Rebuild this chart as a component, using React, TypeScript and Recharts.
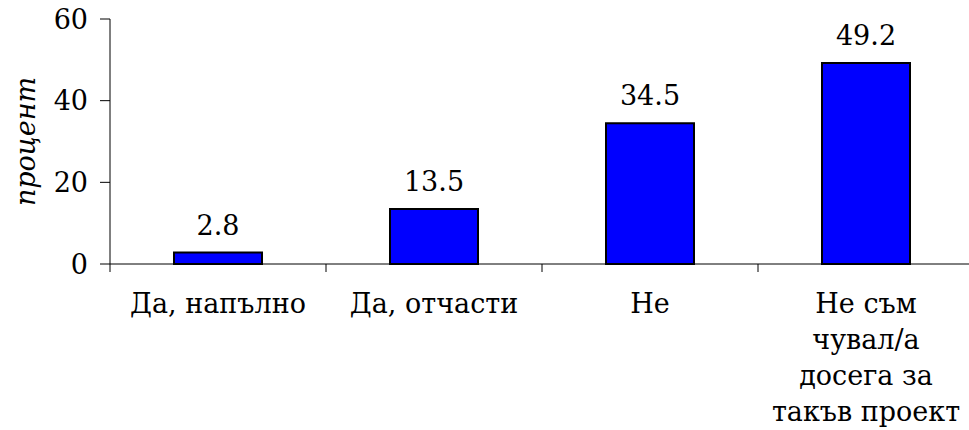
import React from 'react';
import { BarChart, Bar, XAxis, YAxis, LabelList } from 'recharts';

const categories = ['Да, напълно', 'Да, отчасти', 'Не', 'Не съм\nчувал/а\nдосега за\nтакъв проект'];
const percents = [2.8, 13.5, 34.5, 49.2];
const yTicks = [0, 20, 40, 60];

const data = categories.map((name, i) => ({ name, value: percents[i] }));

const FONT = '"DejaVu Serif", serif';
const FONT_SIZE = 27;

function CategoryTick(props: any) {
  const { x, y, payload } = props;
  const half = payload.offset ?? 108;
  const lines = String(payload.value).split('\n');
  return (
    <g>
      <line x1={x - half} x2={x - half} y1={y - 8} y2={y} stroke="#000" />
      <text x={x} y={y} textAnchor="middle" fontFamily={FONT} fontSize={FONT_SIZE} fill="#000">
        {lines.map((line, i) => (
          <tspan key={i} x={x} dy={i === 0 ? 41 : 36}>
            {line}
          </tspan>
        ))}
      </text>
    </g>
  );
}

export default function App() {
  return (
    <div style={{ position: 'absolute', left: 0, top: 0, width: 969, height: 430, overflow: 'hidden', background: '#fff' }}>
      <BarChart width={980} height={430} data={data} margin={{ top: 19, right: 6, left: 0, bottom: 0 }}>
        <XAxis
          dataKey="name"
          interval={0}
          height={166}
          tickLine={false}
          tickSize={8}
          tickMargin={0}
          axisLine={{ stroke: '#000' }}
          tick={<CategoryTick />}
        />
        <YAxis
          width={110}
          domain={[0, 60]}
          ticks={yTicks}
          tickSize={10}
          tickMargin={12}
          axisLine={{ stroke: '#000' }}
          tickLine={{ stroke: '#000' }}
          tick={{ fontFamily: FONT, fontSize: FONT_SIZE, fill: '#000' }}
          label={{
            content: ({ viewBox }: any) => (
              <text
                x={viewBox.x + 25}
                y={viewBox.y + viewBox.height / 2}
                transform={`rotate(-90, ${viewBox.x + 25}, ${viewBox.y + viewBox.height / 2})`}
                textAnchor="middle"
                dominantBaseline="central"
                fontFamily={FONT}
                fontStyle="italic"
                fontSize={FONT_SIZE}
                fill="#000"
              >
                процент
              </text>
            ),
          }}
        />
        <Bar dataKey="value" fill="#0000FF" stroke="#000" strokeWidth={2} barSize={88} isAnimationActive={false}>
          <LabelList
            dataKey="value"
            position="top"
            offset={18}
            fontFamily={FONT}
            fontSize={FONT_SIZE}
            fill="#000"
          />
        </Bar>
      </BarChart>
    </div>
  );
}
